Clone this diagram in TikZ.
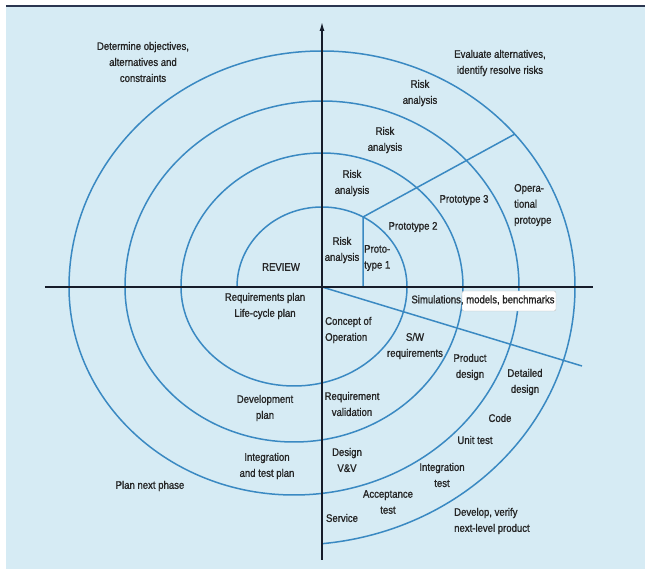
\documentclass[tikz,border=0pt]{standalone}
\usepackage{fontspec}
\setmainfont{Liberation Sans}[FakeStretch=0.87, FakeBold=1.1]
\usetikzlibrary{arrows.meta}
\definecolor{bgblue}{HTML}{D6EBF4}
\definecolor{topline}{HTML}{2B3650}
\definecolor{spiral}{HTML}{3A89C2}
\definecolor{axis}{HTML}{161C2A}
\definecolor{txt}{HTML}{252525}
\tikzset{
	lbl/.style={font=\fontsize{11}{16}\selectfont, text=txt, align=center, inner sep=0pt},
	lblleft/.style={lbl, align=left, anchor=west},
	spiralline/.style={draw=spiral, line width=1.5pt},
	axisline/.style={draw=axis, line width=1.3pt}
}
\begin{document}
\begin{tikzpicture}[x=1pt,y=1pt]
		\useasboundingbox (-322,-282) rectangle (323,287);
		\fill [bgblue] (-316,-282) rectangle (323,279.5);
		\draw [topline, line width=2pt] (-316,280.5) -- (323,280.5);
		% spiral, upper halves round O, lower halves shifted left
		\draw [spiralline] (-85,0) arc[start angle=180, end angle=0, x radius=85, y radius=80]
			arc[start angle=0, end angle=-180, x radius=113, y radius=99]
			arc[start angle=180, end angle=0, x radius=141, y radius=134]
			arc[start angle=0, end angle=-180, x radius=169, y radius=155]
			arc[start angle=180, end angle=0, x radius=197, y radius=186]
			arc[start angle=0, end angle=-180, x radius=225, y radius=208]
			arc[start angle=180, end angle=0, x radius=253, y radius=236]
			arc[start angle=0, end angle=-84.3, x radius=281, y radius=258];
		\coordinate (O) at (0,0);
		\coordinate (p1) at (41,0);
		\coordinate (p2) at (41,70);
		\coordinate (p3) at (193,153);
		\coordinate (dr) at (260,-79);
		\draw [spiralline] (p1) -- (p2) -- (p3);
		\draw [spiralline] (O) -- (dr);
		% axes
		\coordinate (top) at (0,265);
		\coordinate (bot) at (0,-273);
		\coordinate (lft) at (-277,0);
		\coordinate (rgt) at (271,0);
		\draw [axisline, -{Latex[length=9pt,width=5pt]}] (bot) -- (top);
		\draw [axisline] (lft) -- (rgt);
		\filldraw [fill=white, draw=black!25, rounded corners=2pt] (140,-4) rectangle (234,-24);
		% labels
		\node [lbl] (obj) at (-179,225) {Determine objectives,\\alternatives and\\constraints};
		\node [lbl] (eval) at (178,224) {Evaluate alternatives,\\identify resolve risks};
		\node [lbl] (risk4) at (98,194) {Risk\\analysis};
		\node [lbl] (risk3) at (63,147) {Risk\\analysis};
		\node [lbl] (risk2) at (30,104) {Risk\\analysis};
		\node [lbl] (risk1) at (20,37) {Risk\\analysis};
		\node [lblleft] (proto1) at (42,29) {Proto-\\type 1};
		\node [lbl] (proto2) at (91,60) {Prototype 2};
		\node [lbl] (proto3) at (142,87) {Prototype 3};
		\node [lblleft] (opproto) at (192,82) {Opera-\\tional\\protoype};
		\node [lbl] (review) at (-41,20) {REVIEW};
		\node [lbl] (reqplan) at (-57,-19) {Requirements plan\\Life-cycle plan};
		\node [lbl] (sim) at (161,-13) {Simulations, models, benchmarks};
		\node [lblleft] (concept) at (3,-43) {Concept of\\Operation};
		\node [lbl] (swreq) at (93,-59) {S/W\\requirements};
		\node [lbl] (proddes) at (148,-80) {Product\\design};
		\node [lbl] (detdes) at (203,-95) {Detailed\\design};
		\node [lbl] (devplan) at (-57,-121) {Development\\plan};
		\node [lbl] (reqval) at (30,-117) {Requirement\\validation};
		\node [lbl] (code) at (178,-131) {Code};
		\node [lbl] (unittest) at (153,-153) {Unit test};
		\node [lbl] (designvv) at (25,-173) {Design\\V\&V};
		\node [lbl] (intplan) at (-55,-179) {Integration\\and test plan};
		\node [lbl] (inttest) at (120,-188) {Integration\\test};
		\node [lbl] (plannext) at (-172,-199) {Plan next phase};
		\node [lbl] (acctest) at (66,-215) {Acceptance\\test};
		\node [lbl] (service) at (20,-231) {Service};
		\node [lblleft] (develop) at (132,-234) {Develop, verify\\next-level product};
	\end{tikzpicture}
\end{document}
